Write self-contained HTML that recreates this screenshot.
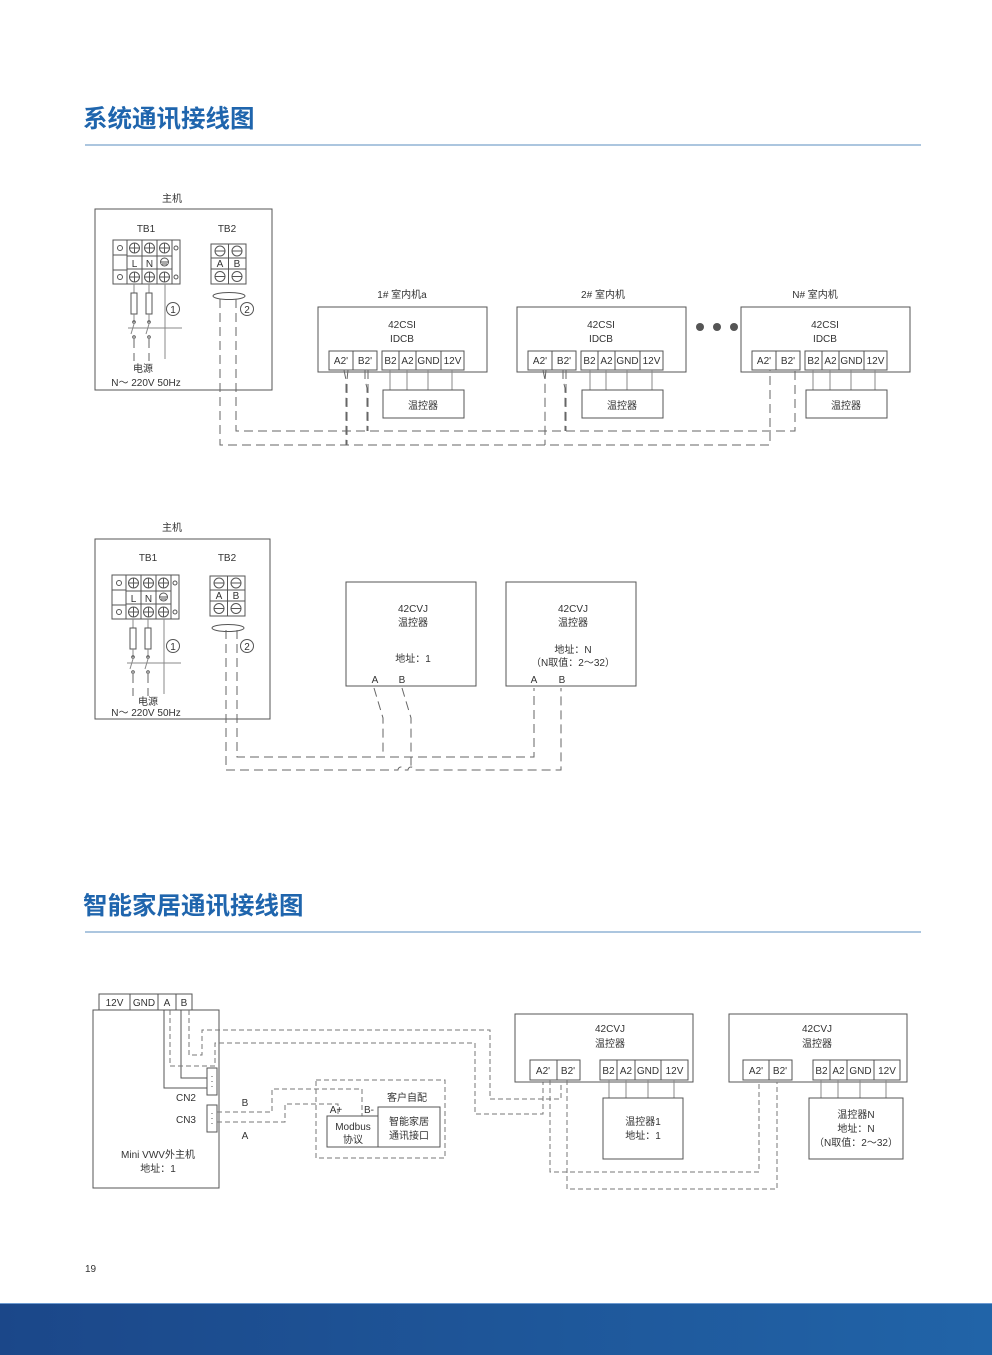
<!DOCTYPE html>
<html><head><meta charset="utf-8"><style>
html,body{margin:0;padding:0;background:#fff;}
svg{display:block;}
text{font-family:"Liberation Sans","Noto Sans CJK SC",sans-serif;fill:#333;}
.h{font-size:24.5px;fill:#1f65ad;font-weight:bold;}
.t{font-size:10px;text-anchor:middle;}
.s{stroke:#555;stroke-width:1;fill:none;}
.g{stroke:#888;stroke-width:1;fill:none;}
.d{stroke:#666;stroke-width:1;fill:none;stroke-dasharray:9,5;}
.d2{stroke:#777;stroke-width:1;fill:none;stroke-dasharray:5,3;}
</style></head><body>
<svg width="992" height="1355" viewBox="0 0 992 1355" xmlns="http://www.w3.org/2000/svg">
<defs><linearGradient id="bg" x1="0" x2="1"><stop offset="0" stop-color="#1b4789"/><stop offset="1" stop-color="#2164a8"/></linearGradient></defs>
<text x="83" y="127" class="h">系统通讯接线图</text>
<line x1="85" y1="145" x2="921" y2="145" stroke="#5a8cbf" stroke-width="1"/>
<text x="83" y="914" class="h">智能家居通讯接线图</text>
<line x1="85" y1="932" x2="921" y2="932" stroke="#5a8cbf" stroke-width="1"/>

<!-- ===== Diagram 1 ===== -->
<text x="172" y="202" class="t">主机</text>
<rect x="95" y="209" width="177" height="181" class="s"/>
<text x="146" y="232" class="t">TB1</text>
<text x="227" y="232" class="t">TB2</text>
<g id="tb1a">
<rect x="113" y="240" width="67" height="44" class="s"/>
<line x1="127" y1="240" x2="127" y2="284" class="s"/><line x1="172" y1="240" x2="172" y2="284" class="s"/>
<line x1="142" y1="240" x2="142" y2="284" class="s"/><line x1="157" y1="240" x2="157" y2="284" class="s"/>
<line x1="127" y1="256" x2="172" y2="256" class="s"/><line x1="127" y1="269" x2="172" y2="269" class="s"/>
<line x1="113" y1="255" x2="127" y2="255" class="s"/><line x1="113" y1="270" x2="127" y2="270" class="s"/>
<circle cx="120" cy="248" r="2.5" class="s"/><circle cx="120" cy="277" r="2.5" class="s"/>
<circle cx="176" cy="248" r="2" class="s"/><circle cx="176" cy="277" r="2" class="s"/>
<circle cx="134.5" cy="248" r="5" class="s"/><circle cx="149.5" cy="248" r="5" class="s"/><circle cx="164.5" cy="248" r="5" class="s"/>
<circle cx="134.5" cy="277" r="5" class="s"/><circle cx="149.5" cy="277" r="5" class="s"/><circle cx="164.5" cy="277" r="5" class="s"/>
<path d="M134.5 243v10M149.5 243v10M164.5 243v10M129.5 248h10M144.5 248h10M159.5 248h10M134.5 272v10M149.5 272v10M164.5 272v10M129.5 277h10M144.5 277h10M159.5 277h10" class="s"/>
<text x="134.5" y="267" class="t">L</text><text x="149.5" y="267" class="t">N</text>
<circle cx="164.5" cy="262" r="4" class="s"/><path d="M161 262h7M162 264h5" class="s"/>
<path d="M134 284v9M149 284v9M165 284v75" class="g"/>
<rect x="131" y="293" width="6" height="21" class="s"/><rect x="146" y="293" width="6" height="21" class="s"/>
<path d="M134 314v8M149 314v8M128 328h54M134 324l-3 10M149 324l-3 10" class="g"/>
<circle cx="134" cy="322" r="1.3" class="s"/><circle cx="149" cy="322" r="1.3" class="s"/>
<circle cx="134" cy="337" r="1.3" class="s"/><circle cx="149" cy="337" r="1.3" class="s"/>
<path d="M134 339v22M149 339v22" class="d"/>
</g>
<circle cx="173" cy="309" r="6.5" class="s"/><text x="173" y="313" class="t">1</text>
<g id="tb2a">
<rect x="211" y="244" width="35" height="40" class="s"/>
<line x1="228.5" y1="244" x2="228.5" y2="284" class="s"/>
<line x1="211" y1="258" x2="246" y2="258" class="s"/><line x1="211" y1="269" x2="246" y2="269" class="s"/>
<circle cx="220" cy="251" r="5" class="s"/><circle cx="237" cy="251" r="5" class="s"/>
<circle cx="220" cy="276.5" r="5" class="s"/><circle cx="237" cy="276.5" r="5" class="s"/>
<path d="M215 251h10M232 251h10M215 276.5h10M232 276.5h10" class="s"/>
<text x="220" y="267" class="t">A</text><text x="237" y="267" class="t">B</text>
<ellipse cx="229" cy="296" rx="16" ry="3.5" class="s"/>
</g>
<circle cx="247" cy="309" r="6.5" class="s"/><text x="247" y="313" class="t">2</text>
<text x="143" y="372" class="t">电源</text>
<text x="146" y="386" class="t">N～ 220V 50Hz</text>

<g>
<text x="402" y="298" class="t">1# 室内机a</text>
<rect x="318" y="307" width="169" height="65" class="s"/>
<text x="402" y="328" class="t">42CSI</text><text x="402" y="342" class="t">IDCB</text>
<rect x="329" y="351" width="48" height="19" class="s"/><line x1="353" y1="351" x2="353" y2="370" class="s"/>
<rect x="382" y="351" width="82" height="19" class="s"/><path d="M399 351v19M416 351v19M441 351v19" class="s"/>
<text x="341" y="364" class="t">A2'</text><text x="365" y="364" class="t">B2'</text>
<text x="390.5" y="364" class="t">B2</text><text x="407.5" y="364" class="t">A2</text><text x="428.5" y="364" class="t">GND</text><text x="452.5" y="364" class="t">12V</text>
<path d="M390 370v20M407 370v20M428 370v20M452 370v20" class="g"/>
<rect x="383" y="390" width="81" height="28" class="s"/><text x="423" y="409" class="t">温控器</text>
</g>
<g>
<text x="603" y="298" class="t">2# 室内机</text>
<rect x="517" y="307" width="169" height="65" class="s"/>
<text x="601" y="328" class="t">42CSI</text><text x="601" y="342" class="t">IDCB</text>
<rect x="528" y="351" width="48" height="19" class="s"/><line x1="552" y1="351" x2="552" y2="370" class="s"/>
<rect x="581" y="351" width="82" height="19" class="s"/><path d="M598 351v19M615 351v19M640 351v19" class="s"/>
<text x="540" y="364" class="t">A2'</text><text x="564" y="364" class="t">B2'</text>
<text x="589.5" y="364" class="t">B2</text><text x="606.5" y="364" class="t">A2</text><text x="627.5" y="364" class="t">GND</text><text x="651.5" y="364" class="t">12V</text>
<path d="M590 370v20M606 370v20M627 370v20M652 370v20" class="g"/>
<rect x="582" y="390" width="81" height="28" class="s"/><text x="622" y="409" class="t">温控器</text>
</g>
<circle cx="700" cy="327" r="4" fill="#555"/><circle cx="717" cy="327" r="4" fill="#555"/><circle cx="734" cy="327" r="4" fill="#555"/>
<g>
<text x="815" y="298" class="t">N# 室内机</text>
<rect x="741" y="307" width="169" height="65" class="s"/>
<text x="825" y="328" class="t">42CSI</text><text x="825" y="342" class="t">IDCB</text>
<rect x="752" y="351" width="48" height="19" class="s"/><line x1="776" y1="351" x2="776" y2="370" class="s"/>
<rect x="805" y="351" width="82" height="19" class="s"/><path d="M822 351v19M839 351v19M864 351v19" class="s"/>
<text x="764" y="364" class="t">A2'</text><text x="788" y="364" class="t">B2'</text>
<text x="813.5" y="364" class="t">B2</text><text x="830.5" y="364" class="t">A2</text><text x="851.5" y="364" class="t">GND</text><text x="875.5" y="364" class="t">12V</text>
<path d="M813 370v20M830 370v20M851 370v20M875 370v20" class="g"/>
<rect x="806" y="390" width="81" height="28" class="s"/><text x="846" y="409" class="t">温控器</text>
</g>
<path d="M236 299V431H795V370" class="d"/>
<path d="M220 299V445H770V370" class="d"/>
<path d="M344 370l2 10V445M348 370l-1 10v65" class="d"/>
<path d="M365 370v10l2 8V431M368 370v61" class="d"/>
<path d="M543 370l2 10V445M546 370l-1 10v65" class="d"/>
<path d="M563 370v10l2 8V431M566 370v61" class="d"/>

<!-- ===== Diagram 2 ===== -->
<text x="172" y="531" class="t">主机</text>
<rect x="95" y="539" width="175" height="180" class="s"/>
<text x="148" y="561" class="t">TB1</text>
<text x="227" y="561" class="t">TB2</text>
<use href="#tb1a" transform="translate(-1,335)"/>
<use href="#tb2a" transform="translate(-1,332)"/>
<circle cx="173" cy="646" r="6.5" class="s"/><text x="173" y="650" class="t">1</text>
<circle cx="247" cy="646" r="6.5" class="s"/><text x="247" y="650" class="t">2</text>
<text x="148" y="705" class="t">电源</text>
<text x="146" y="716" class="t">N～ 220V 50Hz</text>

<rect x="346" y="582" width="130" height="104" class="s"/>
<text x="413" y="612" class="t">42CVJ</text><text x="413" y="626" class="t">温控器</text>
<text x="413" y="662" class="t">地址：1</text>
<text x="375" y="683" class="t">A</text><text x="402" y="683" class="t">B</text>
<rect x="506" y="582" width="130" height="104" class="s"/>
<text x="573" y="612" class="t">42CVJ</text><text x="573" y="626" class="t">温控器</text>
<text x="573" y="653" class="t">地址：N</text><text x="573" y="666" class="t">（N取值：2～32）</text>
<text x="534" y="683" class="t">A</text><text x="562" y="683" class="t">B</text>
<path d="M226 630V770H398a3 3 0 0 1 6 0H408a3 3 0 0 1 6 0H561V688" class="d"/>
<path d="M237 630V757H534V688" class="d"/>
<path d="M374 688l9 30V757" class="d"/>
<path d="M402 688l9 30V770" class="d"/>

<!-- ===== Diagram 3 ===== -->
<rect x="99" y="994" width="93" height="16" class="s"/>
<path d="M130 994v16M158 994v16M176 994v16" class="s"/>
<text x="114.5" y="1006" class="t">12V</text><text x="144" y="1006" class="t">GND</text><text x="167" y="1006" class="t">A</text><text x="184" y="1006" class="t">B</text>
<rect x="93" y="1010" width="126" height="178" class="s"/>
<text x="158" y="1158" class="t">Mini VWV外主机</text>
<text x="158" y="1172" class="t">地址：1</text>
<rect x="207" y="1068" width="10" height="27" class="s"/>
<rect x="207" y="1105" width="10" height="27" class="s"/>
<path d="M212 1076v1M212 1081v1M212 1086v1M212 1113v1M212 1118v1M212 1123v1" stroke="#555"/>
<text x="186" y="1101" class="t">CN2</text><text x="186" y="1123" class="t">CN3</text>
<path d="M164 1010V1088H207M181 1010V1078H207" class="s"/>
<path d="M189 1010V1055H202V1030H490V1099H561V1082" class="d2"/>
<path d="M170 1010V1066H215V1043H475V1114H543V1082" class="d2"/>
<path d="M217 1112H272V1089H362V1116" class="d2"/>
<path d="M217 1122H285V1104H338V1116" class="d2"/>
<text x="245" y="1106" class="t">B</text><text x="245" y="1139" class="t">A</text>
<rect x="316" y="1080" width="129" height="78" class="d2"/>
<text x="407" y="1101" class="t">客户自配</text>
<text x="336" y="1113" class="t">A+</text><text x="369" y="1113" class="t">B-</text>
<rect x="327" y="1116" width="51" height="31" class="s"/>
<rect x="378" y="1107" width="62" height="40" class="s"/>
<text x="353" y="1130" class="t">Modbus</text><text x="353" y="1143" class="t">协议</text>
<text x="409" y="1125" class="t">智能家居</text><text x="409" y="1139" class="t">通讯接口</text>

<rect x="515" y="1014" width="178" height="68" class="s"/>
<text x="610" y="1032" class="t">42CVJ</text><text x="610" y="1047" class="t">温控器</text>
<rect x="530" y="1060" width="50" height="20" class="s"/><line x1="557" y1="1060" x2="557" y2="1080" class="s"/>
<rect x="600" y="1060" width="88" height="20" class="s"/><path d="M617 1060v20M635 1060v20M661 1060v20" class="s"/>
<text x="543" y="1074" class="t">A2'</text><text x="568" y="1074" class="t">B2'</text>
<text x="608.5" y="1074" class="t">B2</text><text x="626" y="1074" class="t">A2</text><text x="648" y="1074" class="t">GND</text><text x="674.5" y="1074" class="t">12V</text>
<path d="M609 1080v18M626 1080v18M648 1080v18M674 1080v18" class="g"/>
<rect x="603" y="1098" width="80" height="61" class="s"/>
<text x="643" y="1125" class="t">温控器1</text><text x="643" y="1139" class="t">地址：1</text>

<rect x="729" y="1014" width="178" height="68" class="s"/>
<text x="817" y="1032" class="t">42CVJ</text><text x="817" y="1047" class="t">温控器</text>
<rect x="743" y="1060" width="49" height="20" class="s"/><line x1="769" y1="1060" x2="769" y2="1080" class="s"/>
<rect x="813" y="1060" width="87" height="20" class="s"/><path d="M830 1060v20M847 1060v20M874 1060v20" class="s"/>
<text x="756" y="1074" class="t">A2'</text><text x="780" y="1074" class="t">B2'</text>
<text x="821.5" y="1074" class="t">B2</text><text x="838.5" y="1074" class="t">A2</text><text x="860.5" y="1074" class="t">GND</text><text x="887" y="1074" class="t">12V</text>
<path d="M821 1080v18M838 1080v18M860 1080v18M886 1080v18" class="g"/>
<rect x="809" y="1098" width="94" height="61" class="s"/>
<text x="856" y="1118" class="t">温控器N</text><text x="856" y="1132" class="t">地址：N</text><text x="856" y="1146" class="t">（N取值：2～32）</text>
<path d="M550 1080V1172H759V1082" class="d2"/>
<path d="M567 1080V1189H777V1082" class="d2"/>

<text x="85" y="1272" style="font-size:10px">19</text>
<rect x="0" y="1303" width="992" height="52" fill="url(#bg)"/>
<line x1="0" y1="1303.5" x2="992" y2="1303.5" stroke="#6d9ad0"/>
</svg>
</body></html>
